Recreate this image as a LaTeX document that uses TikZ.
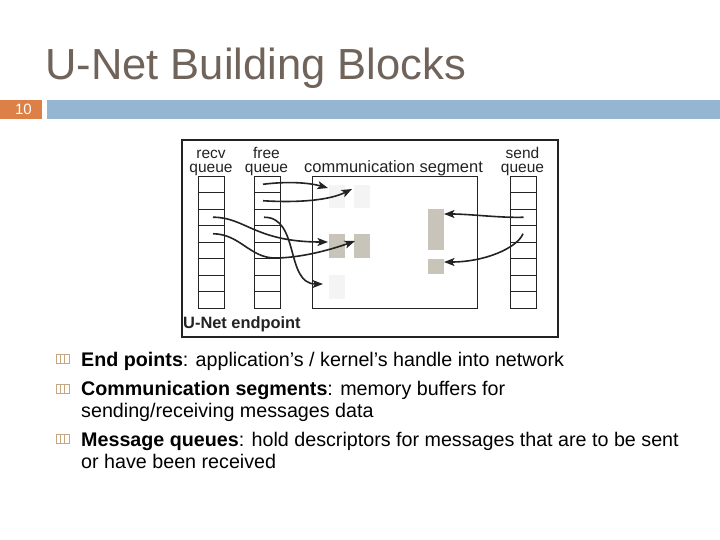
\documentclass[tikz,border=0pt]{standalone}
\usepackage{fontspec}
\setmainfont{Liberation Sans}
\usetikzlibrary{arrows.meta}
\definecolor{titlecol}{RGB}{112,99,90}
\definecolor{barblue}{RGB}{148,182,210}
\definecolor{numorange}{RGB}{221,128,71}
\definecolor{bufdark}{RGB}{200,196,186}
\definecolor{buflight}{RGB}{244,244,244}
\definecolor{bulletcol}{RGB}{200,165,130}
\definecolor{linecol}{RGB}{35,35,35}
\begin{document}
\begin{tikzpicture}[x=1pt,y=-1pt,
 cell/.style={draw=linecol,line width=0.9pt,minimum width=26pt,minimum height=16.5pt,inner sep=0,outer sep=0,anchor=north west},
 buf/.style={inner sep=0,outer sep=0,anchor=north west,minimum width=16pt},
 lbl/.style={font=\fontsize{16.5}{14}\selectfont,align=center,inner sep=0,text=linecol},
 qlbl/.style={lbl,font=\fontsize{15.5}{14}\selectfont},
 arr/.style={line width=1.6pt,draw=linecol,-{Stealth[length=10.5pt,width=8pt,inset=2.5pt]}},
 item/.style={font=\fontsize{19.7}{22}\selectfont,anchor=base west,align=left,inner sep=0},
 bar/.style={inner sep=0,outer sep=0,anchor=north west,minimum height=19pt}
]
\useasboundingbox (0,0) rectangle (720,540);
\fill[white] (0,0) rectangle (720,540);
% title and header bar
\node[anchor=base west,inner sep=0,text=titlecol,font=\fontsize{43.5}{50}\selectfont] (title) at (45,80) {U-Net Building Blocks};
\node[bar,fill=numorange,minimum width=42pt,text=white,font=\fontsize{15}{15}\selectfont] (num) at (0,100) {\hspace*{5pt}10};
\node[bar,fill=barblue,minimum width=673pt] (hbar) at (47,100) {};
% frame
\node[draw=linecol,line width=1.8pt,minimum width=376pt,minimum height=197pt,anchor=north west,inner sep=0] (frame) at (181,139) {};
% communication segment
\node[draw=linecol,line width=1pt,minimum width=165pt,minimum height=132pt,anchor=north west,inner sep=0] (seg) at (312,176) {};
% buffers
\node[buf,fill=buflight,minimum height=23.5pt] (b1) at (329,185) {};
\node[buf,fill=buflight,minimum height=23.5pt] (b2) at (354,185) {};
\node[buf,fill=bufdark,minimum height=24pt] (b3) at (329,234) {};
\node[buf,fill=bufdark,minimum height=24pt] (b4) at (354,234) {};
\node[buf,fill=buflight,minimum height=24pt] (b5) at (329,275) {};
\node[buf,fill=bufdark,minimum height=41pt] (b6) at (428,209) {};
\node[buf,fill=bufdark,minimum height=15pt] (b7) at (428,259) {};
% queues
\foreach \i in {1,...,8} {
  \node[cell] (r\i) at (198,{176+(\i-1)*16.5}) {};
  \node[cell] (f\i) at (254,{176+(\i-1)*16.5}) {};
  \node[cell] (s\i) at (510,{176+(\i-1)*16.5}) {};
}
% labels
\node[qlbl,anchor=base] (rl) at (211,173) {recv\\queue};
\node[qlbl,anchor=base] (fl) at (266.5,173) {free\\queue};
\node[qlbl,anchor=base] (sl) at (522.5,173) {send\\queue};
\node[lbl,anchor=base] (cl) at (393.5,173) {communication segment};
\node[lbl,anchor=base west,font=\bfseries\fontsize{16.4}{16}\selectfont] (el) at (183,328) {U-Net endpoint};
% arrows
\draw[arr] ([xshift=-4pt]f1.center) .. controls (290,181) and (310,183) .. ([shift={(-1pt,-3pt)}]b1.north west);
\draw[arr] ([xshift=-4pt]f2.center) .. controls (300,203) and (330,200) .. ([shift={(-2pt,-4pt)}]b2.north west);
\draw[arr] ([xshift=2pt]r3.center) .. controls (245,217) and (255,242) .. ([shift={(-1pt,-8pt)}]b3.north west);
\draw[arr] ([xshift=2pt]r4.center) .. controls (240,234) and (250,258) .. (275,258) .. controls (300,258) and (330,250) .. ([shift={(1pt,-7pt)}]b4.north west);
\draw[arr] ([xshift=-3pt]f3.center) .. controls (300,217) and (285,284) .. ([shift={(-6pt,-9pt)}]b5.north west);
\draw[arr] ([xshift=0.5pt]s3.center) .. controls (500,218) and (470,214) .. ([yshift=-5pt]b6.north east);
\draw[arr] (s4.center) .. controls (517,248) and (485,262) .. ([yshift=-3pt]b7.north east);
% bullets
\foreach \yy in {359,389,439} \foreach \k in {0,1,2}
  \draw[bulletcol,line width=0.6pt] ({56+\k*4.3},{\yy-4.5}) rectangle ++(4.3,9);
\node[item] (i1) at (81,366) {\textbf{End points}: application’s / kernel’s handle into network};
\node[item] (i2) at (81,417) {\textbf{Communication segments}: memory buffers for\\sending/receiving messages data};
\node[item] (i3) at (81,468) {\textbf{Message queues}: hold descriptors for messages that are to be sent\\or have been received};
\end{tikzpicture}
\end{document}
